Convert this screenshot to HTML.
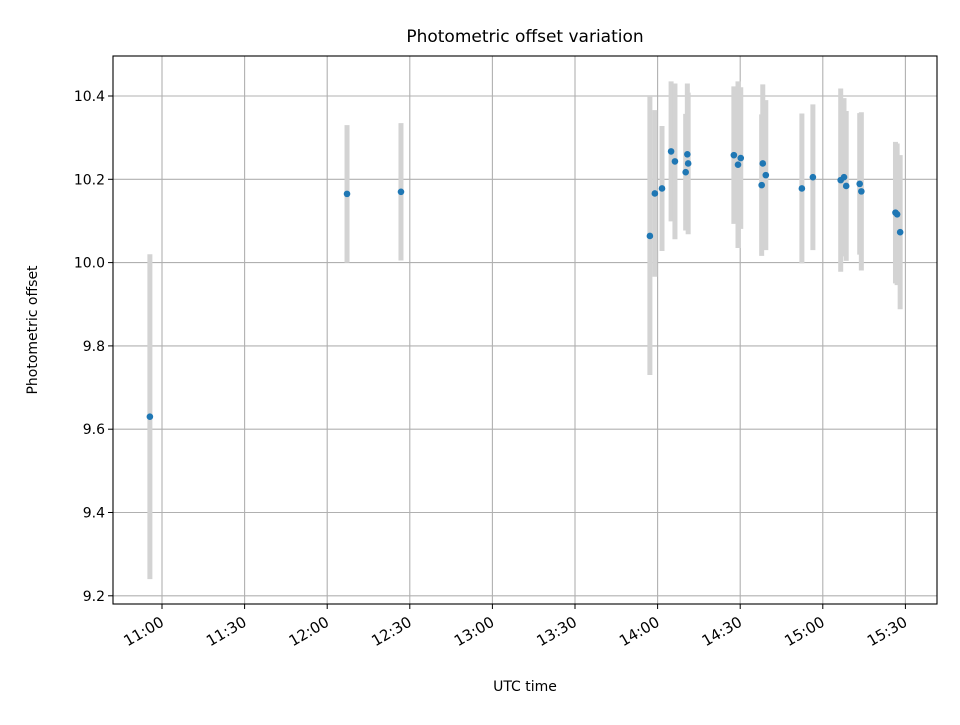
<!DOCTYPE html>
<html><head><meta charset="utf-8"><style>
body{margin:0;background:#fff;}
svg{font-family:"DejaVu Sans","Liberation Sans",sans-serif;}
</style></head><body>
<svg id="chart" width="960" height="720" xmlns="http://www.w3.org/2000/svg">
<rect width="960" height="720" fill="#fff"/>
<g id="grid"></g><g id="bars"></g><g id="pts"></g><g id="axes"></g>
<text x="525" y="42" font-size="17" text-anchor="middle">Photometric offset variation</text>
<text x="525" y="691" font-size="14" text-anchor="middle">UTC time</text>
<text transform="translate(37,330) rotate(-90)" font-size="14" text-anchor="middle">Photometric offset</text>
</svg>
<script>
// minutes after 11:00 UTC
const times=[-4.4,67.2,86.8,177.2,179.0,181.6,184.9,186.3,190.8,191.1,190.2,207.7,210.2,209.2,218.2,219.3,217.8,232.4,236.4,246.5,247.7,248.5,253.4,254.0,266.4,267.0,268.1];
const offsets=[9.63,10.165,10.17,10.064,10.166,10.178,10.267,10.243,10.26,10.238,10.217,10.258,10.251,10.235,10.238,10.21,10.186,10.178,10.205,10.198,10.205,10.184,10.189,10.171,10.12,10.116,10.073];
const errors=[0.39,0.165,0.165,0.334,0.2,0.15,0.168,0.187,0.17,0.17,0.14,0.165,0.17,0.2,0.19,0.18,0.17,0.18,0.175,0.22,0.19,0.18,0.17,0.19,0.17,0.17,0.185];
const xTicks=[0,30,60,90,120,150,180,210,240,270];
const xTickLabels=["11:00","11:30","12:00","12:30","13:00","13:30","14:00","14:30","15:00","15:30"];
const yTicks=[9.2,9.4,9.6,9.8,10.0,10.2,10.4];

const L=113,R=937,T=56,B=604;
const X=m=>162+m*82.6/30;
const Y=v=>96+(10.4-v)*416.5;
const NS="http://www.w3.org/2000/svg";
function mk(tag,attrs,parent){const e=document.createElementNS(NS,tag);for(const k in attrs)e.setAttribute(k,attrs[k]);document.getElementById(parent).appendChild(e);return e;}
xTicks.forEach((t,i)=>{
  const x=X(t);
  const g=mk('line',{x1:x,x2:x,y1:T,y2:B,stroke:'#b0b0b0','stroke-width':1.1},'grid');
  
  
  const tk=mk('line',{x1:x,x2:x,y1:B,y2:B+5,stroke:'#000','stroke-width':1},'axes');
  
  
  const ax=x+3, ay=B+21;
  const tx=mk('text',{x:ax,y:ay,'font-size':15,'text-anchor':'end',transform:`rotate(-30 ${ax} ${ay})`},'axes');
  
  
  tx.textContent=xTickLabels[i];
});
yTicks.forEach(v=>{
  const y=Y(v);
  const g=mk('line',{x1:L,x2:R,y1:y,y2:y,stroke:'#b0b0b0','stroke-width':1.1},'grid');
  
  
  const tk=mk('line',{x1:L-5,x2:L,y1:y,y2:y,stroke:'#000','stroke-width':1},'axes');
  
  
  const tx=mk('text',{x:L-8,y:y+5,'font-size':14,'text-anchor':'end'},'axes');
  
  
  tx.textContent=v.toFixed(1);
});
times.forEach((t,i)=>{
  const x=X(t);
  const b=mk('line',{x1:x,x2:x,y1:Y(offsets[i]+errors[i]),y2:Y(offsets[i]-errors[i]),stroke:'#d3d3d3','stroke-width':5},'bars');
  
  
  const p=mk('circle',{cx:x,cy:Y(offsets[i]),r:3.3,fill:'#1f77b4'},'pts');
  
  
});
const f=mk('rect',{x:L,y:T,width:R-L,height:B-T,fill:'none',stroke:'#000','stroke-width':1.1},'axes');


</script>
</body></html>
